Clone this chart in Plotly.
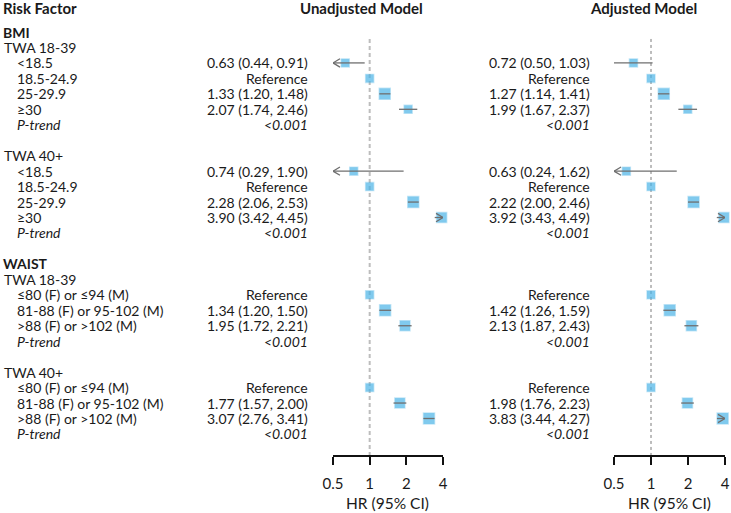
import math
import plotly.graph_objects as go

# ---------------- data ----------------
row_labels = ["BMI", "TWA 18-39", "<18.5", "18.5-24.9", "25-29.9", "≥30", "P-trend", "",
              "TWA 40+", "<18.5", "18.5-24.9", "25-29.9", "≥30", "P-trend", "",
              "WAIST", "TWA 18-39", "≤80 (F) or ≤94 (M)", "81-88 (F) or 95-102 (M)",
              ">88 (F) or >102 (M)", "P-trend", "",
              "TWA 40+", "≤80 (F) or ≤94 (M)", "81-88 (F) or 95-102 (M)",
              ">88 (F) or >102 (M)", "P-trend"]
row_levels = [0, 1, 2, 2, 2, 2, 3, -1,
              1, 2, 2, 2, 2, 3, -1,
              0, 1, 2, 2, 2, 3, -1,
              1, 2, 2, 2, 3]

est_rows = [2, 3, 4, 5, 9, 10, 11, 12, 17, 18, 19, 23, 24, 25]
ptrend_rows = [6, 13, 20, 26]
ptrend_text = ["<0.001", "<0.001", "<0.001", "<0.001"]

unadj_hr = [0.63, 1.00, 1.33, 2.07, 0.74, 1.00, 2.28, 3.90, 1.00, 1.34, 1.95, 1.00, 1.77, 3.07]
unadj_lo = [0.44, None, 1.20, 1.74, 0.29, None, 2.06, 3.42, None, 1.20, 1.72, None, 1.57, 2.76]
unadj_hi = [0.91, None, 1.48, 2.46, 1.90, None, 2.53, 4.45, None, 1.50, 2.21, None, 2.00, 3.41]

adj_hr = [0.72, 1.00, 1.27, 1.99, 0.63, 1.00, 2.22, 3.92, 1.00, 1.42, 2.13, 1.00, 1.98, 3.83]
adj_lo = [0.50, None, 1.14, 1.67, 0.24, None, 2.00, 3.43, None, 1.26, 1.87, None, 1.76, 3.44]
adj_hi = [1.03, None, 1.41, 2.37, 1.62, None, 2.46, 4.49, None, 1.59, 2.43, None, 2.23, 4.27]

tick_vals = [0.5, 1, 2, 4]
tick_text = ["0.5", "1", "2", "4"]
x_min, x_max = 0.5, 4.0

# ---------------- styles ----------------
unadj_sizes = [8, 8, 11, 8, 8, 8, 11, 10, 8, 11, 10, 8, 10, 11]
adj_sizes = [8, 8, 11, 8, 8, 8, 11, 10, 8, 11, 10, 8, 10, 11]

W, H = 731, 513
FONT = "Lato"
TXT = "#1a1a1a"
BLUE = "#4bb4e7"
CI_COL = "#6f6f6f"
row0_px, row_step = 32.0, 15.46
axis_px = 455.0
y_top = (0 - row0_px) / row_step
y_bot = (axis_px - row0_px) / row_step
chev_dx = 0.19   # chevron arm length, in log2 units
chev_dy = 0.27   # chevron half-height, in row units

label_x = {0: 1, 1: 2, 2: 15, 3: 15}

fig = go.Figure()

panels = [
    dict(hr=unadj_hr, lo=unadj_lo, hi=unadj_hi, sizes=unadj_sizes, xa="x",
         dom=(333 / W, 443 / W), txt_x=310, title="Unadjusted Model", title_x=361,
         dash_col="#bdbdbd", dash_w=2, dash="4px,3px"),
    dict(hr=adj_hr, lo=adj_lo, hi=adj_hi, sizes=adj_sizes, xa="x2",
         dom=(614 / W, 725 / W), txt_x=592, title="Adjusted Model", title_x=643,
         dash_col="#7a7a7a", dash_w=1, dash="3px,3px"),
]

annotations = []

for p in panels:
    # reference line at HR = 1
    fig.add_trace(go.Scatter(x=[1, 1], y=[0.45, y_bot], mode="lines", xaxis=p["xa"], yaxis="y",
                             line=dict(color=p["dash_col"], width=p["dash_w"], dash=p["dash"]),
                             hoverinfo="skip", showlegend=False))
    # squares
    fig.add_trace(go.Scatter(x=p["hr"], y=est_rows, mode="markers", xaxis=p["xa"], yaxis="y",
                             marker=dict(symbol="square", size=p["sizes"], color=BLUE,
                                         line=dict(color="rgba(75,180,231,0.45)", width=1.5)),
                             cliponaxis=False, hoverinfo="skip", showlegend=False))
    # CI lines + arrow chevrons for truncated intervals
    xs, ys = [], []
    for r, lo, hi in zip(est_rows, p["lo"], p["hi"]):
        if lo is None:
            continue
        a, b = max(lo, x_min), min(hi, x_max)
        xs += [a, b, None]
        ys += [r, r, None]
        if lo < x_min:
            xa_ = x_min * 2 ** chev_dx
            xs += [xa_, x_min, xa_, None]
            ys += [r - chev_dy, r, r + chev_dy, None]
        if hi > x_max:
            xb_ = x_max * 2 ** (-chev_dx)
            xs += [xb_, x_max, xb_, None]
            ys += [r - chev_dy, r, r + chev_dy, None]
    fig.add_trace(go.Scatter(x=xs, y=ys, mode="lines", xaxis=p["xa"], yaxis="y",
                             line=dict(color=CI_COL, width=1.3), hoverinfo="skip",
                             showlegend=False))
    # HR texts
    for r, hr, lo, hi in zip(est_rows, p["hr"], p["lo"], p["hi"]):
        t = "Reference" if lo is None else f"{hr:.2f} ({lo:.2f}, {hi:.2f})"
        annotations.append(dict(xref="paper", yref="y", x=p["txt_x"] / W, y=r, text=t,
                                xanchor="right", yanchor="middle", showarrow=False,
                                font=dict(family=FONT, size=14, color=TXT)))
    for r, t in zip(ptrend_rows, ptrend_text):
        annotations.append(dict(xref="paper", yref="y", x=p["txt_x"] / W, y=r,
                                text=f"<i>{t.replace('<', '&lt;')}</i>",
                                xanchor="right", yanchor="middle", showarrow=False,
                                font=dict(family=FONT, size=14, color=TXT)))
    # panel title
    annotations.append(dict(xref="paper", yref="y", x=p["title_x"] / W, y=(8 - row0_px) / row_step,
                            text=f"<b>{p['title']}</b>", xanchor="center", yanchor="middle",
                            showarrow=False, font=dict(family=FONT, size=15, color=TXT)))
    # axis title
    annotations.append(dict(xref="paper", yref="paper", x=(p["dom"][0] + p["dom"][1]) / 2,
                            y=1 - 503 / H, text="HR (95% CI)", xanchor="center",
                            yanchor="middle", showarrow=False,
                            font=dict(family=FONT, size=15.5, color=TXT)))

# row labels
for r, (lab, lvl) in enumerate(zip(row_labels, row_levels)):
    if lvl < 0:
        continue
    t = lab.replace("<", "&lt;").replace(">", "&gt;")
    if lvl == 0:
        t = f"<b>{t}</b>"
    elif lvl == 3:
        t = f"<i>{t}</i>"
    annotations.append(dict(xref="paper", yref="y", x=label_x[lvl] / W, y=r, text=t,
                            xanchor="left", yanchor="middle", showarrow=False,
                            font=dict(family=FONT, size=14, color=TXT)))

annotations.append(dict(xref="paper", yref="y", x=1 / W, y=(8 - row0_px) / row_step,
                        text="<b>Risk Factor</b>", xanchor="left", yanchor="middle",
                        showarrow=False, font=dict(family=FONT, size=15, color=TXT)))

axis_common = dict(type="log", range=[math.log10(x_min), math.log10(x_max)],
                   tickvals=tick_vals, ticktext=tick_text, ticks="outside", ticklen=8,
                   tickwidth=1.5, tickcolor="#111", showline=True, linecolor="#111",
                   linewidth=1.5, showgrid=False, zeroline=False, anchor="y",
                   automargin=False,
                   tickfont=dict(family=FONT, size=15, color=TXT), ticklabelstandoff=6)

fig.update_layout(
    template="none",
    width=W, height=H, margin=dict(l=0, r=0, t=0, b=0, pad=0, autoexpand=False),
    paper_bgcolor="white", plot_bgcolor="white",
    xaxis=dict(domain=list(panels[0]["dom"]), **axis_common),
    xaxis2=dict(domain=list(panels[1]["dom"]), **axis_common),
    yaxis=dict(range=[y_bot, y_top], domain=[1 - axis_px / H, 1], visible=False,
               showgrid=False, zeroline=False, automargin=False),
    annotations=annotations,
    showlegend=False,
)

fig.write_html("out.html", config={"displayModeBar": False},
               post_script="document.body.style.margin='0';document.body.style.overflow='hidden';")
